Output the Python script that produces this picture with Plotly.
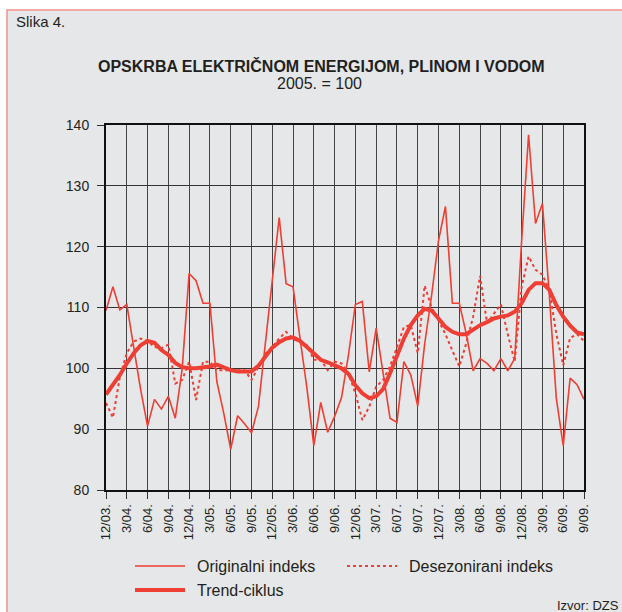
import plotly.graph_objects as go

# Months Dec 2003 .. Sep 2009 (70 points)
tick_labels = ["12/03.", "3/04.", "6/04.", "9/04.", "12/04.", "3/05.", "6/05.", "9/05.",
               "12/05.", "3/06.", "6/06.", "9/06.", "12/06.", "3/07.", "6/07.", "9/07.",
               "12/07.", "3/08.", "6/08.", "9/08.", "12/08.", "3/09.", "6/09.", "9/09."]

originalni = [109.5, 113.4, 109.6, 110.5, 103.5, 96.5, 90.5, 94.9, 93.3, 95.4, 91.8, 100.0,
              115.6, 114.4, 110.7, 110.7, 97.8, 92.6, 86.7, 92.2, 90.9, 89.4, 93.7, 103.7,
              113.8, 124.8, 113.9, 113.4, 105.0, 96.8, 87.3, 94.4, 89.5, 92.1, 95.2, 102.2,
              110.5, 111.0, 99.4, 106.6, 99.2, 91.8, 91.1, 101.1, 98.9, 93.8, 104.0, 112.0,
              121.0, 126.6, 110.7, 110.7, 105.7, 99.6, 101.6, 100.8, 99.6, 101.6, 99.6, 101.6,
              121.0, 138.4, 123.8, 127.1, 112.0, 95.1, 87.3, 98.4, 97.3, 94.9]

desezonirani = [94.3, 91.9, 98.6, 102.5, 104.4, 104.9, 104.5, 103.5, 103.3, 103.9, 97.5, 98.1,
                101.1, 94.8, 101.1, 101.1, 99.7, 99.7, 99.7, 99.7, 99.7, 98.1, 100.3, 102.4,
                103.5, 104.9, 106.0, 104.8, 104.4, 103.8, 101.4, 101.4, 99.7, 101.1, 100.8, 99.2,
                95.9, 91.5, 93.7, 97.0, 98.1, 100.3, 103.5, 106.8, 107.1, 102.5, 113.6, 110.0,
                107.9, 105.6, 102.9, 100.3, 104.1, 108.5, 115.2, 107.4, 109.0, 110.5, 105.6, 101.1,
                113.4, 118.4, 116.2, 115.4, 112.9, 105.7, 100.5, 105.0, 105.6, 104.5]

trend = [95.7, 97.2, 98.9, 100.8, 102.5, 103.8, 104.5, 104.2, 103.0, 102.2, 100.9, 100.2,
         100.0, 100.0, 100.1, 100.3, 100.6, 100.1, 99.7, 99.5, 99.5, 99.5, 100.4, 101.8,
         103.4, 104.3, 104.9, 105.1, 104.5, 103.5, 102.5, 101.4, 101.0, 100.5, 100.0, 99.1,
         97.2, 95.9, 95.1, 95.4, 96.6, 99.2, 101.9, 104.9, 107.1, 108.7, 109.8, 109.5,
         108.2, 106.8, 106.0, 105.6, 105.6, 106.4, 107.1, 107.6, 108.2, 108.5, 108.7, 109.3,
         110.7, 112.9, 114.0, 114.0, 112.9, 110.4, 108.5, 107.0, 105.9, 105.6]

series_names = ["Originalni indeks", "Desezonirani indeks", "Trend-ciklus"]

x = list(range(len(originalni)))
tick_pos = list(range(0, len(originalni), 3))

RED = "#ef3e33"
BG = "#e6e7e9"
FONT = "Liberation Sans, Arial, sans-serif"
TXT = "#231f20"

styles = [dict(color=RED, width=1.6), dict(color=RED, width=2, dash="dot"), dict(color=RED, width=4)]

fig = go.Figure()
for name, ys, st in zip(series_names, [originalni, desezonirani, trend], styles):
    fig.add_trace(go.Scatter(x=x, y=ys, mode="lines", name=name, line=st, showlegend=False))

L, R, T, B = 106, 38, 125, 122
W, H = 622, 612
pw, ph = W - L - R, H - T - B

def px(xp):
    return (xp - L) / pw

def py(yp):
    return (H - B - yp) / ph

shapes = [dict(type="rect", xref="paper", yref="paper", layer="below",
               x0=px(7), x1=px(700), y0=py(700), y1=py(10),
               fillcolor=BG, line=dict(color="#f4918a", width=1.5))]
annotations = [
    dict(text="Slika 4.", x=px(14), y=py(22), xanchor="left", font=dict(size=15)),
    dict(text="<b>OPSKRBA ELEKTRIČNOM ENERGIJOM, PLINOM I VODOM</b>", x=px(321), y=py(66),
         xanchor="center", font=dict(size=16)),
    dict(text="2005. = 100", x=px(319), y=py(84), xanchor="center", font=dict(size=16)),
    dict(text="Izvor: DZS", x=px(621), y=py(605), xanchor="right", font=dict(size=13)),
]

# manual legend (sample line + label)
legend_pos = [(135, 566), (347, 566), (135, 590)]
for name, st, (lx, ly) in zip(series_names, styles, legend_pos):
    shapes.append(dict(type="line", xref="paper", yref="paper", x0=px(lx), x1=px(lx + 50),
                       y0=py(ly), y1=py(ly), line=st))
    annotations.append(dict(text=name, x=px(lx + 60), y=py(ly), xanchor="left",
                            font=dict(size=16)))

for a in annotations:
    a.update(xref="paper", yref="paper", yanchor="middle", showarrow=False)
    a["font"].update(family=FONT, color=TXT)

fig.update_layout(
    width=W, height=H,
    margin=dict(l=L, r=R, t=T, b=B, pad=0, autoexpand=False),
    paper_bgcolor="white",
    plot_bgcolor=BG,
    font=dict(family=FONT, color=TXT, size=13),
    shapes=shapes,
    annotations=annotations,
)

fig.update_xaxes(range=[0, len(originalni) - 1], tickmode="array", tickvals=tick_pos,
                 ticktext=tick_labels, tickangle=-90, ticks="outside", ticklen=7,
                 tickcolor="#333", tickfont=dict(size=13), showgrid=True, gridcolor="#444",
                 gridwidth=1, showline=True, linecolor="#111", linewidth=2, mirror=True,
                 zeroline=False, automargin=False)
fig.update_yaxes(range=[80, 140], tickmode="array", tickvals=[80, 90, 100, 110, 120, 130, 140],
                 ticks="outside", ticklen=7, tickcolor="#333", tickfont=dict(size=14),
                 ticklabelstandoff=5,
                 showgrid=True, gridcolor="#333", gridwidth=1, showline=True, linecolor="#111",
                 linewidth=2, mirror=True, zeroline=False, automargin=False)

fig.write_html("out.html", config={"displayModeBar": False},
               post_script="document.body.style.margin='0';")
